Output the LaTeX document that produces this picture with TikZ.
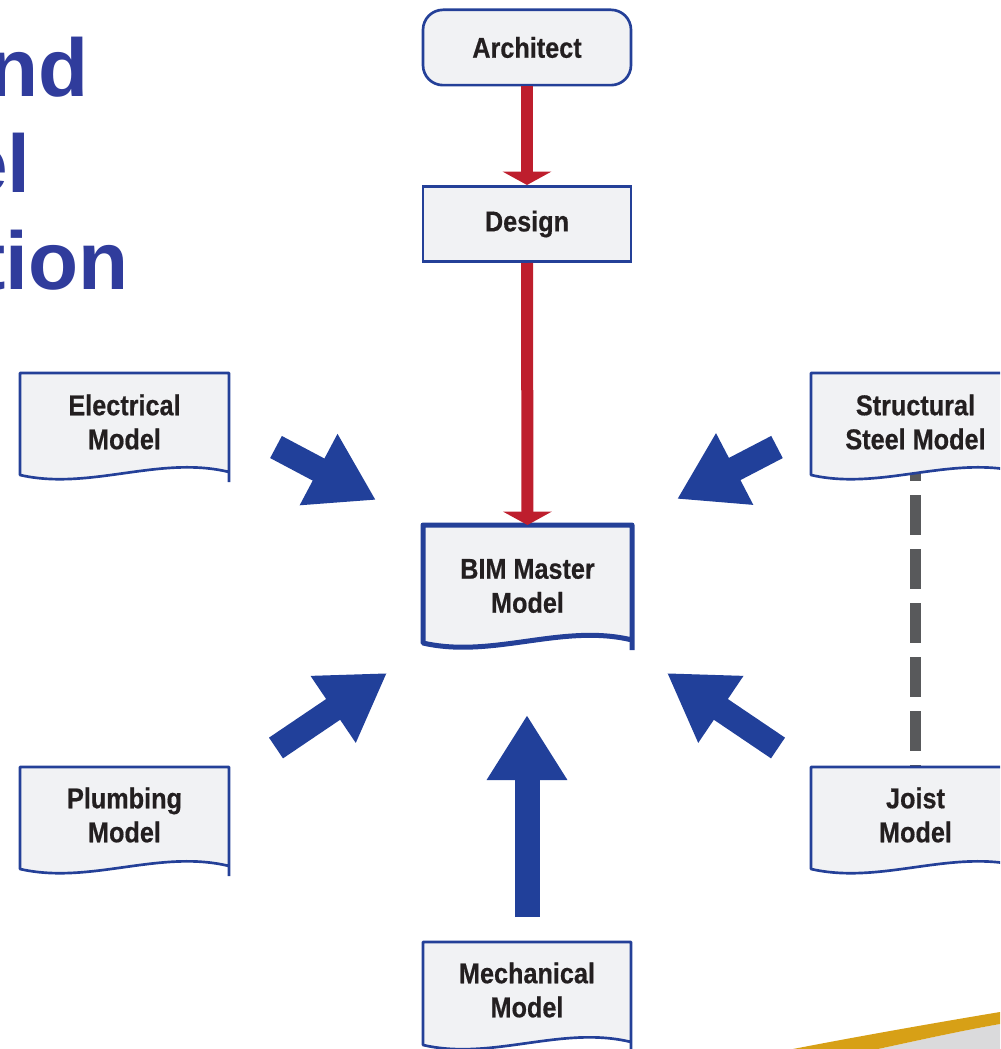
\documentclass[tikz,border=0pt]{standalone}
\usepackage{fontspec}
\setmainfont{Liberation Sans}
\newfontfamily\boxfont[FakeStretch=0.88,FakeBold=0.5]{Liberation Sans}
\usetikzlibrary{arrows.meta}

\definecolor{boxblue}{RGB}{36,64,152}
\definecolor{arrowblue}{RGB}{33,64,154}
\definecolor{boxfill}{RGB}{241,242,244}
\definecolor{linkred}{RGB}{190,30,45}
\definecolor{dashgray}{RGB}{88,89,91}
\definecolor{inkblack}{RGB}{35,31,32}
\definecolor{titleblue}{RGB}{48,60,156}
\definecolor{swooshgold}{RGB}{215,160,22}
\definecolor{swooshgray}{RGB}{218,218,220}

\tikzset{
  boxtext/.style={font=\boxfont\bfseries\fontsize{21.5}{25.5}\selectfont,
    text=inkblack, align=center, inner sep=0pt},
  titletext/.style={font=\bfseries\fontsize{61.5}{70}\selectfont,
    text=titleblue, inner sep=0pt},
  plainbox/.style={boxtext, draw=boxblue, fill=boxfill, line width=2pt,
    minimum width=156pt, minimum height=56.5pt},
  docfill/.style={fill=boxfill},
  docline/.style={draw=boxblue, line join=round},
  redlink/.style={draw=linkred, line width=9pt,
    -{Triangle[length=10pt,width=36pt]}},
  blockarrow/.style={draw=arrowblue, line width=18.75pt,
    -{Triangle[length=48.75pt,width=57pt]}},
  dashlink/.style={draw=dashgray, line width=8.25pt,
    dash pattern=on 30pt off 10.5pt},
}

% document shape with wavy bottom:
% #1 name, #2 left x, #3 top y, #4 right x, #5 height of left side,
% #6 border width, #7 text
\newcommand\docbox[7]{%
  \pgfmathsetmacro\dbA{#3+#5}%
  \pgfmathsetmacro\dbB{#3+#5-3}%
  \pgfmathsetmacro\dbC{#3+#5+16}%
  \pgfmathsetmacro\dbD{#3+#5-20}%
  \pgfmathsetmacro\dbE{#3+#5+7}%
  \pgfmathsetmacro\dbP{#2+(#4-#2)/3}%
  \pgfmathsetmacro\dbQ{#2+2*(#4-#2)/3}%
  \pgfmathsetmacro\dbM{(#2+#4)/2}%
  \path[docfill] (#2,#3) -- (#4,#3) -- (#4,\dbB)
    .. controls (\dbQ,\dbD) and (\dbP,\dbC) .. (#2,\dbA) -- cycle;
  \draw[docline, line width=#6] (#4,\dbE) -- (#4,#3) -- (#2,#3) -- (#2,\dbA)
    .. controls (\dbP,\dbC) and (\dbQ,\dbD) .. (#4,\dbB);
  \coordinate (#1-top) at (\dbM,#3);
  \coordinate (#1-bot) at (\dbM,\dbA);
}

\begin{document}
\begin{tikzpicture}[x=0.75pt, y=-0.75pt]
\useasboundingbox (0,0) rectangle (1000,1049);
\clip (0,0) rectangle (1000,1049);

% title fragments at the left edge
\node[titletext, anchor=base east] (title1) at (89,97) {nd};
\node[titletext, anchor=base east] (title2) at (31,192) {el};
\node[titletext, anchor=base east] (title3) at (129,289) {tion};

% swoosh in the lower right corner
\fill[swooshgray] (1000,1024) .. controls (960,1031) and (915,1041) .. (878,1049)
  -- (1000,1049) -- cycle;
\fill[swooshgold] (793,1049) .. controls (860,1036) and (940,1022) .. (1000,1012)
  -- (1000,1024) .. controls (960,1031) and (915,1041) .. (878,1049) -- cycle;

% link between steel and joist models (drawn beneath the boxes)
\coordinate (dashstart) at (915.5,441);
\coordinate (dashend) at (915.5,767);
\draw[dashlink] (dashstart) -- (dashend);

% boxes
\node[plainbox, rounded corners=15pt] (architect) at (527,47.5) {Architect};
\node[plainbox] (design) at (527,224) {Design};

\docbox{bim}{423}{525}{632}{118}{3.75pt}{}
\node[boxtext] (master) at (527.5,586) {BIM Master\\Model};

\docbox{elec}{20}{373}{229}{102}{2pt}{}
\node[boxtext] (electrical) at (124.5,422) {Electrical\\Model};

\docbox{steel}{811}{373}{1020}{102}{2pt}{}
\node[boxtext] (structural) at (915.5,422) {Structural\\Steel Model};

\docbox{plumb}{20}{767}{229}{102}{2pt}{}
\node[boxtext] (plumbing) at (124.5,815) {Plumbing\\Model};

\docbox{joist}{811}{767}{1020}{102}{2pt}{}
\node[boxtext] (joistmodel) at (915.5,815) {Joist\\Model};

\docbox{mech}{423}{942}{631}{103}{2pt}{}
\node[boxtext] (mechanical) at (527,990) {Mechanical\\Model};

% design flow
\draw[redlink] (architect.south) -- (design.north);
\draw[redlink] (design.south) -- (bim-top);

% contributions into the master model
\coordinate (etail) at (276,447);  \coordinate (etip) at (376,500);
\coordinate (stail) at (777,447);  \coordinate (stip) at (677,499);
\coordinate (ptail) at (276,748);  \coordinate (ptip) at (387,673);
\coordinate (jtail) at (778,748);  \coordinate (jtip) at (667,673);
\coordinate (mtail) at (527,917);  \coordinate (mtip) at (527,715);
\draw[blockarrow] (etail) -- (etip);
\draw[blockarrow] (stail) -- (stip);
\draw[blockarrow] (ptail) -- (ptip);
\draw[blockarrow] (jtail) -- (jtip);
\draw[blockarrow] (mtail) -- (mtip);
\end{tikzpicture}
\end{document}
